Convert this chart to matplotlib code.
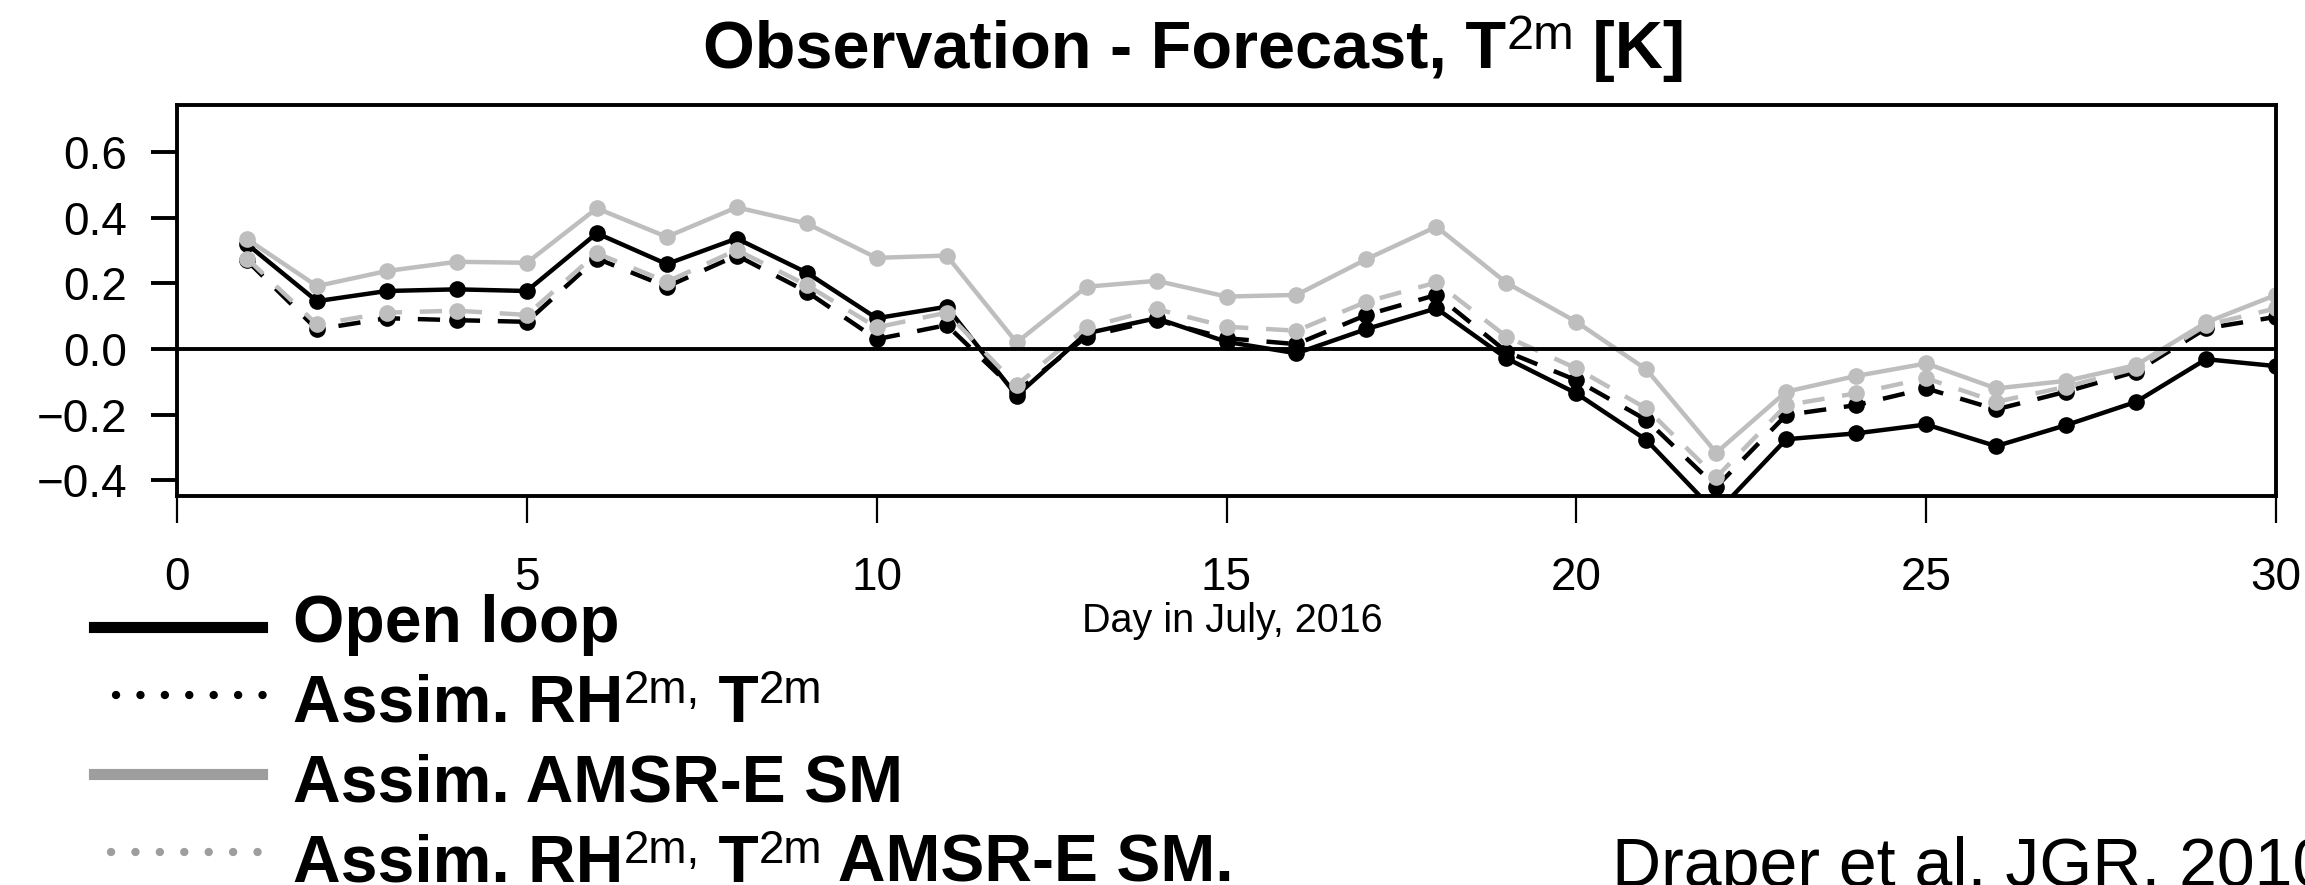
import matplotlib
matplotlib.use("Agg")
import matplotlib.pyplot as plt
from matplotlib.lines import Line2D
from matplotlib.transforms import IdentityTransform

plt.rcParams['font.family'] = ['Liberation Sans', 'DejaVu Sans']

# daily mean obs - forecast of 2 m temperature, July 2016
days = list(range(1, 31))
open_loop = [0.32, 0.146, 0.177, 0.182, 0.177, 0.353, 0.259, 0.337, 0.233, 0.094,
             0.129, -0.142, 0.048, 0.094, 0.022, -0.013, 0.061, 0.124, -0.028, -0.135,
             -0.277, -0.50, -0.275, -0.257, -0.23, -0.296, -0.232, -0.161, -0.031, -0.052]
assim_rh_t = [0.27, 0.06, 0.094, 0.088, 0.083, 0.276, 0.19, 0.285, 0.175, 0.03,
              0.073, -0.13, 0.038, 0.088, 0.033, 0.015, 0.104, 0.165, -0.008, -0.095,
              -0.216, -0.42, -0.201, -0.171, -0.12, -0.184, -0.13, -0.069, 0.063, 0.098]
assim_sm = [0.335, 0.192, 0.238, 0.266, 0.263, 0.429, 0.342, 0.432, 0.383, 0.278,
            0.285, 0.02, 0.19, 0.208, 0.16, 0.165, 0.274, 0.373, 0.202, 0.083,
            -0.062, -0.316, -0.13, -0.082, -0.044, -0.12, -0.097, -0.049, 0.081, 0.165]
assim_rh_t_sm = [0.276, 0.075, 0.111, 0.117, 0.104, 0.292, 0.205, 0.302, 0.195, 0.066,
                 0.111, -0.11, 0.066, 0.122, 0.068, 0.056, 0.144, 0.203, 0.038, -0.059,
                 -0.181, -0.391, -0.171, -0.135, -0.089, -0.161, -0.115, -0.059, 0.073, 0.124]

xticks = [0, 5, 10, 15, 20, 25, 30]
yticks = [-0.4, -0.2, 0.0, 0.2, 0.4, 0.6]

W, H = 2305, 885
GRAY = '#bebebe'
LEG_GRAY = '#9e9e9e'

fig = plt.figure(figsize=(W / 100, H / 100), dpi=100)
ax = fig.add_axes([177 / W, 1 - 496 / H, 2099 / W, 391 / H])

style = dict(lw=3.2, marker='o', ms=12, mew=0)
ax.plot(days, open_loop, color='black', **style)
ax.plot(days, assim_rh_t, color='black', dashes=(5, 4), **style)
ax.plot(days, assim_sm, color=GRAY, **style)
ax.plot(days, assim_rh_t_sm, color=GRAY, dashes=(5, 4), **style)
ax.axhline(0, color='black', lw=2.8)

ax.set_xlim(0, 30)
ax.set_ylim(-0.448, 0.744)
ax.set_xticks(xticks)
ax.set_xticklabels([str(t) for t in xticks])
ax.set_yticks(yticks)
ax.set_yticklabels([f"{t:.1f}".replace('-', '\u2212') for t in yticks])
ax.tick_params(axis='x', length=19.4, width=1.6, pad=24, labelsize=33)
ax.tick_params(axis='y', length=19, width=2.8, pad=17, labelsize=33)
for s in ax.spines.values():
    s.set_linewidth(2.8)

ax.set_xlabel("Day in July, 2016", fontsize=28.5)
ax.xaxis.set_label_coords((1232 - 177) / 2099, (496 - 602) / 391)


def rich_text(x, y, parts):
    # draw text pieces one after another, x/y in pixels from the top left
    r = fig.canvas.get_renderer()
    for s, size, weight, rise in parts:
        t = fig.text(x, H - y + rise, s, transform=IdentityTransform(),
                     fontsize=size, fontweight=weight, ha='left', va='baseline')
        x += t.get_window_extent(r).width


BIG = 47.5
SUP = 33
RISE = 19

rich_text(703, 68, [("Observation - Forecast, T", 48, 'bold', 0),
                    ("2m", 35, 'normal', RISE),
                    (" [K]", 48, 'bold', 0)])

# legend handles
fig.add_artist(Line2D([94 / W, 262 / W], [1 - 627 / H] * 2, color='black', lw=8))
fig.add_artist(Line2D([116 / W, 266 / W], [1 - 695 / H] * 2, color='black', lw=6,
                      dashes=(0.01, 2.92), dash_capstyle='round'))
fig.add_artist(Line2D([94 / W, 262 / W], [1 - 774 / H] * 2, color=LEG_GRAY, lw=8))
fig.add_artist(Line2D([111 / W, 262 / W], [1 - 852 / H] * 2, color=LEG_GRAY, lw=6,
                      dashes=(0.01, 2.92), dash_capstyle='round'))

rich_text(293, 642, [("Open loop", BIG, 'bold', 0)])
rich_text(293, 722, [("Assim. RH", BIG, 'bold', 0), ("2m,", SUP, 'normal', RISE),
                     (" T", BIG, 'bold', 0), ("2m", SUP, 'normal', RISE)])
rich_text(293, 802, [("Assim. AMSR-E SM", BIG, 'bold', 0)])
rich_text(293, 882, [("Assim. RH", BIG, 'bold', 0), ("2m,", SUP, 'normal', RISE),
                     (" T", BIG, 'bold', 0), ("2m", SUP, 'normal', RISE),
                     (" AMSR-E SM.", BIG, 'bold', 0)])

fig.text(1612, H - 886, "Draper et al. JGR, 2010", transform=IdentityTransform(),
         fontsize=49, ha='left', va='baseline')

fig.savefig("out.png", dpi=100)
